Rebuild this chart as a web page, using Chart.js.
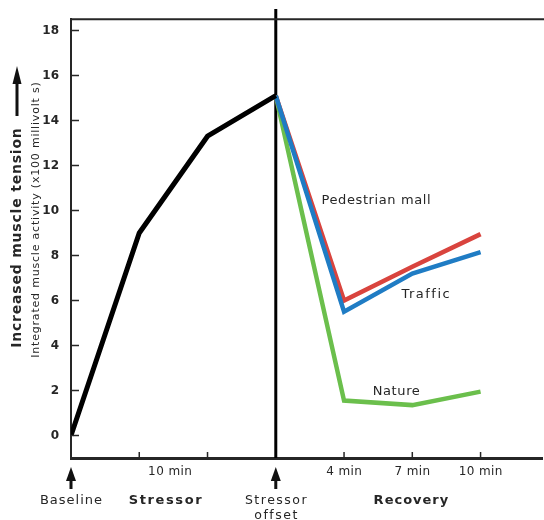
<!DOCTYPE html>
<html>
<head>
<meta charset="utf-8">
<title>Muscle tension during stress and recovery</title>
<script src="https://cdn.jsdelivr.net/npm/chart.js@4.4.1/dist/chart.umd.min.js"></script>
<style>
  html, body { margin: 0; padding: 0; background: #fff; }
  #chart { display: block; }
</style>
</head>
<body>
<canvas id="chart" width="544" height="520"></canvas>
<script>
// phase positions on the time axis (0 = baseline, 3 = stressor offset)
const stressX = [0, 1, 2, 3];
const recoveryX = [3, 4, 5, 6];

// integrated muscle activity (x100 millivolt s)
const stressVals = [0, 9.0, 13.3, 15.1];
const pedestrianVals = [15.1, 6.0, 7.5, 8.95];
const trafficVals = [15.1, 5.5, 7.2, 8.15];
const natureVals = [15.1, 1.55, 1.35, 1.95];

const yTicks = [0, 2, 4, 6, 8, 10, 12, 14, 16, 18];
const xTickMarks = [1, 2, 4, 5, 6];
const timeLabelPos = [1.45, 4, 5, 6];
const timeLabels = ['10 min', '4 min', '7 min', '10 min'];

const toPoints = (xs, ys) => xs.map((x, i) => ({ x: x, y: ys[i] }));

const INK = '#262626';

function arrowUp(ctx, x, tip, base, end, half) {
  ctx.beginPath();
  ctx.moveTo(x, tip);
  ctx.lineTo(x - half, base);
  ctx.lineTo(x + half, base);
  ctx.closePath();
  ctx.fill();
  ctx.fillRect(x - 1.5, base - 1, 3, end - base + 1);
}

// text with a little letter spacing, like the scanned original
function spaced(ctx, text, x, y, font, gap) {
  ctx.font = font;
  ctx.letterSpacing = gap + 'px';
  const shift = ctx.textAlign === 'center' ? gap / 2 : 0;
  ctx.fillText(text, x + shift, y);
  ctx.letterSpacing = '0px';
}

const decorations = {
  id: 'decorations',
  beforeDatasetsDraw(chart) {
    const { ctx, chartArea, scales } = chart;
    const xOff = scales.x.getPixelForValue(3);
    ctx.save();
    ctx.strokeStyle = '#000';
    ctx.lineWidth = 3;
    ctx.beginPath();
    ctx.moveTo(xOff, 9);
    ctx.lineTo(xOff, chartArea.bottom);
    ctx.stroke();
    ctx.restore();
  },
  afterDraw(chart) {
    const { ctx, chartArea, scales } = chart;
    const x = scales.x, y = scales.y;
    ctx.save();

    // frame top
    ctx.strokeStyle = INK;
    ctx.lineWidth = 2;
    ctx.beginPath();
    ctx.moveTo(chartArea.left, chartArea.top);
    ctx.lineTo(chart.width, chartArea.top);
    ctx.stroke();

    // inward tick marks
    ctx.lineWidth = 1.5;
    ctx.beginPath();
    yTicks.forEach(v => {
      const py = y.getPixelForValue(v);
      ctx.moveTo(chartArea.left, py);
      ctx.lineTo(chartArea.left + 8, py);
    });
    xTickMarks.forEach(v => {
      const px = x.getPixelForValue(v);
      ctx.moveTo(px, chartArea.bottom);
      ctx.lineTo(px, chartArea.bottom - 6);
    });
    ctx.stroke();

    // time labels
    ctx.fillStyle = INK;
    ctx.textAlign = 'center';
    ctx.textBaseline = 'middle';
    timeLabels.forEach((t, i) => {
      spaced(ctx, t, x.getPixelForValue(timeLabelPos[i]), chartArea.bottom + 14, '12px "DejaVu Sans"', 0.4);
    });

    // phase labels and arrows
    const xBase = x.getPixelForValue(0);
    const xOff = x.getPixelForValue(3);
    ctx.fillStyle = '#111';
    arrowUp(ctx, xBase, chartArea.bottom + 9, chartArea.bottom + 23, chartArea.bottom + 31, 5);
    arrowUp(ctx, xOff, chartArea.bottom + 9, chartArea.bottom + 23, chartArea.bottom + 31, 5);

    ctx.fillStyle = INK;
    spaced(ctx, 'Baseline', xBase, chartArea.bottom + 43, '13px "DejaVu Sans"', 1);
    spaced(ctx, 'Stressor', xOff, chartArea.bottom + 43, '12.5px "DejaVu Sans"', 1.5);
    spaced(ctx, 'offset', xOff, chartArea.bottom + 58, '12.5px "DejaVu Sans"', 1.5);
    spaced(ctx, 'Stressor', x.getPixelForValue(1.38), chartArea.bottom + 43, 'bold 13px "DejaVu Sans"', 1.6);
    spaced(ctx, 'Recovery', x.getPixelForValue(4.98), chartArea.bottom + 43, 'bold 13px "DejaVu Sans"', 1);

    // series labels
    ctx.textAlign = 'left';
    spaced(ctx, 'Pedestrian mall', x.getPixelForValue(3.67), y.getPixelForValue(10.45), '13px "DejaVu Sans"', 0.6);
    spaced(ctx, 'Traffic', x.getPixelForValue(4.84), y.getPixelForValue(6.27), '13px "DejaVu Sans"', 1.5);
    spaced(ctx, 'Nature', x.getPixelForValue(4.42), y.getPixelForValue(1.97), '13px "DejaVu Sans"', 0.6);

    // y axis titles
    ctx.save();
    ctx.translate(17, 238);
    ctx.rotate(-Math.PI / 2);
    ctx.textAlign = 'center';
    spaced(ctx, 'Increased muscle tension', 0, 0, 'bold 14px "DejaVu Sans"', 0.8);
    ctx.restore();
    ctx.fillStyle = '#111';
    arrowUp(ctx, 17, 66, 84, 116, 4.5);

    ctx.fillStyle = INK;
    ctx.save();
    ctx.translate(36, 220);
    ctx.rotate(-Math.PI / 2);
    ctx.textAlign = 'center';
    spaced(ctx, 'Integrated muscle activity (x100 millivolt s)', 0, 0, '11px "DejaVu Sans"', 0.8);
    ctx.restore();

    ctx.restore();
  }
};

new Chart(document.getElementById('chart'), {
  type: 'line',
  data: {
    datasets: [
      {
        label: 'Stressor',
        data: toPoints(stressX, stressVals),
        borderColor: '#000',
        borderWidth: 5
      },
      {
        label: 'Traffic',
        data: toPoints(recoveryX, trafficVals),
        borderColor: '#1f7cc4',
        borderWidth: 4.5
      },
      {
        label: 'Pedestrian mall',
        data: toPoints(recoveryX, pedestrianVals),
        borderColor: '#d9443e',
        borderWidth: 4.5
      },
      {
        label: 'Nature',
        data: toPoints(recoveryX, natureVals),
        borderColor: '#6bbf4c',
        borderWidth: 4.5
      }
    ]
  },
  options: {
    responsive: false,
    animation: false,
    layout: { padding: { top: 14, right: 2, left: 0, bottom: 0 } },
    elements: {
      line: { tension: 0, borderJoinStyle: 'miter', borderCapStyle: 'butt', fill: false },
      point: { radius: 0, hoverRadius: 0 }
    },
    plugins: {
      legend: { display: false },
      tooltip: { enabled: false }
    },
    scales: {
      x: {
        type: 'linear',
        min: 0,
        max: 6.9,
        grid: { display: false, drawTicks: false },
        border: { display: true, color: INK, width: 3 },
        ticks: { display: false },
        afterFit: scale => { scale.height = 62; }
      },
      y: {
        type: 'linear',
        min: -1,
        max: 18.5,
        grid: { display: false, drawTicks: false },
        border: { display: true, color: INK, width: 2 },
        afterBuildTicks: scale => { scale.ticks = yTicks.map(v => ({ value: v })); },
        ticks: {
          padding: 12,
          color: INK,
          font: { family: 'DejaVu Sans', size: 12, weight: 'bold' }
        },
        afterFit: scale => { scale.width = 71; }
      }
    }
  },
  plugins: [decorations]
});
</script>
</body>
</html>
